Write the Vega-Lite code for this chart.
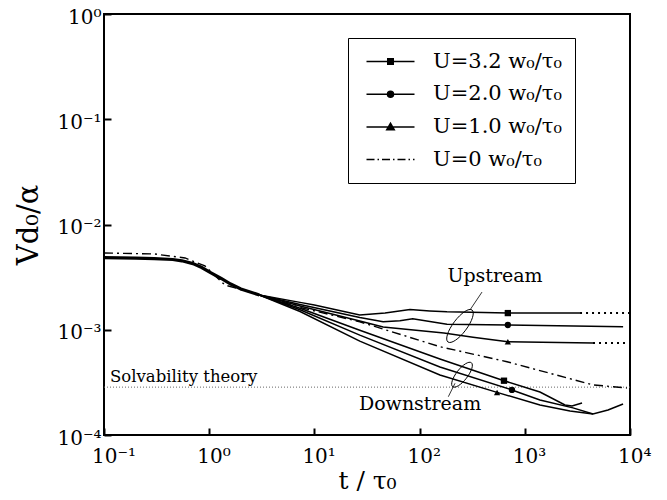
{
  "$schema": "https://vega.github.io/schema/vega-lite/v6.json",
  "width": 526,
  "height": 421,
  "autosize": "none",
  "padding": {"left": 104, "top": 14, "right": 37, "bottom": 65},
  "background": "white",
  "config": {
    "font": "DejaVu Serif",
    "view": {"stroke": "black", "strokeWidth": 2},
    "axis": {"grid": false, "domain": false, "ticks": true, "labelColor": "black", "titleColor": "black", "tickColor": "black", "tickWidth": 2, "titleFontWeight": "normal", "labelOverlap": false, "labelFlush": false}
  },
  "datasets": {
    "solv": [{"t": 0.1, "v": 0.000285}, {"t": 10000, "v": 0.000285}],
    "common": [
      {"t": 0.1, "v": 0.00484}, {"t": 0.2, "v": 0.0048}, {"t": 0.3, "v": 0.00475}, {"t": 0.45, "v": 0.00465},
      {"t": 0.55, "v": 0.00452}, {"t": 0.7, "v": 0.00425}, {"t": 0.85, "v": 0.0039}, {"t": 1.0, "v": 0.00354},
      {"t": 1.3, "v": 0.00307}, {"t": 1.6, "v": 0.00272}, {"t": 2.0, "v": 0.00244}, {"t": 3.0, "v": 0.00214}
    ],
    "curves": [
      {"curve": "3.2 up", "t": 3, "v": 0.00214}, {"curve": "3.2 up", "t": 7.3, "v": 0.00182}, {"curve": "3.2 up", "t": 10, "v": 0.00172},
      {"curve": "3.2 up", "t": 27, "v": 0.00138}, {"curve": "3.2 up", "t": 47, "v": 0.00144}, {"curve": "3.2 up", "t": 81, "v": 0.00156},
      {"curve": "3.2 up", "t": 125, "v": 0.00151}, {"curve": "3.2 up", "t": 182, "v": 0.00148}, {"curve": "3.2 up", "t": 690, "v": 0.00144},
      {"curve": "3.2 up", "t": 3350, "v": 0.00144},
      {"curve": "2.0 up", "t": 3, "v": 0.00214}, {"curve": "2.0 up", "t": 7.3, "v": 0.00174}, {"curve": "2.0 up", "t": 27, "v": 0.00131},
      {"curve": "2.0 up", "t": 45, "v": 0.00119}, {"curve": "2.0 up", "t": 65, "v": 0.00122}, {"curve": "2.0 up", "t": 86, "v": 0.00127},
      {"curve": "2.0 up", "t": 182, "v": 0.00113}, {"curve": "2.0 up", "t": 690, "v": 0.00111}, {"curve": "2.0 up", "t": 8600, "v": 0.00107},
      {"curve": "1.0 up", "t": 3, "v": 0.00214}, {"curve": "1.0 up", "t": 7.3, "v": 0.00168}, {"curve": "1.0 up", "t": 27, "v": 0.00121},
      {"curve": "1.0 up", "t": 45, "v": 0.00106}, {"curve": "1.0 up", "t": 170, "v": 0.00093}, {"curve": "1.0 up", "t": 322, "v": 0.00085},
      {"curve": "1.0 up", "t": 690, "v": 0.000769}, {"curve": "1.0 up", "t": 4450, "v": 0.000748},
      {"curve": "3.2 down", "t": 3, "v": 0.00214}, {"curve": "3.2 down", "t": 7.3, "v": 0.0016}, {"curve": "3.2 down", "t": 27, "v": 0.00099},
      {"curve": "3.2 down", "t": 156, "v": 0.000527}, {"curve": "3.2 down", "t": 634, "v": 0.000328}, {"curve": "3.2 down", "t": 1393, "v": 0.000256},
      {"curve": "3.2 down", "t": 2410, "v": 0.000193}, {"curve": "3.2 down", "t": 2810, "v": 0.000189}, {"curve": "3.2 down", "t": 3500, "v": 0.000201},
      {"curve": "2.0 down", "t": 3, "v": 0.00214}, {"curve": "2.0 down", "t": 7.3, "v": 0.00155}, {"curve": "2.0 down", "t": 27, "v": 0.00089},
      {"curve": "2.0 down", "t": 156, "v": 0.000443}, {"curve": "2.0 down", "t": 755, "v": 0.000268}, {"curve": "2.0 down", "t": 1393, "v": 0.000215},
      {"curve": "2.0 down", "t": 2870, "v": 0.000181}, {"curve": "2.0 down", "t": 4450, "v": 0.000158}, {"curve": "2.0 down", "t": 6180, "v": 0.000173},
      {"curve": "2.0 down", "t": 8590, "v": 0.000197},
      {"curve": "1.0 down", "t": 3, "v": 0.00214}, {"curve": "1.0 down", "t": 7.3, "v": 0.00149}, {"curve": "1.0 down", "t": 27, "v": 0.00078},
      {"curve": "1.0 down", "t": 156, "v": 0.000372}, {"curve": "1.0 down", "t": 545, "v": 0.000254}, {"curve": "1.0 down", "t": 1393, "v": 0.000193},
      {"curve": "1.0 down", "t": 2690, "v": 0.000169}, {"curve": "1.0 down", "t": 4450, "v": 0.000158}
    ],
    "dashdot": [
      {"t": 0.1, "v": 0.00536}, {"t": 0.3, "v": 0.00525}, {"t": 0.59, "v": 0.00481}, {"t": 0.91, "v": 0.00404},
      {"t": 1.41, "v": 0.00266}, {"t": 2.44, "v": 0.00228}, {"t": 7.3, "v": 0.00163}, {"t": 27, "v": 0.00119},
      {"t": 156, "v": 0.00069}, {"t": 677, "v": 0.000497}, {"t": 4450, "v": 0.000299}, {"t": 9360, "v": 0.00028}
    ],
    "ext": [
      {"curve": "3.2 up", "t": 3350, "v": 0.00144}, {"curve": "3.2 up", "t": 10000, "v": 0.00144},
      {"curve": "1.0 up", "t": 4450, "v": 0.000748}, {"curve": "1.0 up", "t": 10000, "v": 0.000748}
    ],
    "markers": [
      {"U": "3.2", "side": "up", "t": 690, "v": 0.00144},
      {"U": "2.0", "side": "up", "t": 690, "v": 0.00111},
      {"U": "1.0", "side": "up", "t": 690, "v": 0.000769},
      {"U": "3.2", "side": "down", "t": 634, "v": 0.000328},
      {"U": "2.0", "side": "down", "t": 755, "v": 0.000268},
      {"U": "1.0", "side": "down", "t": 545, "v": 0.000254}
    ],
    "leaders": [
      {"t": 392, "v": 0.00228, "t2": 301, "v2": 0.00154},
      {"t": 217, "v": 0.00031, "t2": 187.5, "v2": 0.000231}
    ]
  },
  "encoding": {
    "x": {
      "field": "t", "type": "quantitative",
      "scale": {"type": "log", "domain": [0.1, 10000]},
      "axis": {
        "title": "t / τ₀", "values": [0.1, 1, 10, 100, 1000, 10000],
        "labelExpr": "datum.value < 0.5 ? '10⁻¹' : datum.value < 5 ? '10⁰' : datum.value < 50 ? '10¹' : datum.value < 500 ? '10²' : datum.value < 5000 ? '10³' : '10⁴'",
        "labelAlign": "left", "labelOffset": -12.5, "labelFontSize": 20, "labelPadding": 18,
        "tickSize": -7, "titleFontSize": 25, "titlePadding": 2
      }
    },
    "y": {
      "field": "v", "type": "quantitative",
      "scale": {"type": "log", "domain": [0.0001, 1]},
      "axis": {
        "title": "Vd₀/α", "values": [0.0001, 0.001, 0.01, 0.1, 1],
        "labelExpr": "datum.value > 0.5 ? '10⁰' : datum.value > 0.05 ? '10⁻¹' : datum.value > 0.005 ? '10⁻²' : datum.value > 0.0005 ? '10⁻³' : '10⁻⁴'",
        "labelFontSize": 20, "labelPadding": 10, "labelBaseline": "middle", "labelOffset": 3,
        "tickSize": -7, "titleFontSize": 29, "titlePadding": 13
      }
    }
  },
  "layer": [
    {"data": {"name": "solv"}, "mark": {"type": "line", "color": "#666", "strokeWidth": 1, "strokeDash": [1, 2]}, "encoding": {}},
    {"data": {"name": "common"}, "mark": {"type": "line", "color": "black", "strokeWidth": 3.2}, "encoding": {}},
    {"data": {"name": "curves"}, "mark": {"type": "line", "color": "black", "strokeWidth": 1.5}, "encoding": {"detail": {"field": "curve"}}},
    {"data": {"name": "dashdot"}, "mark": {"type": "line", "color": "black", "strokeWidth": 1.4, "strokeDash": [9, 4, 2, 4]}, "encoding": {}},
    {"data": {"name": "ext"}, "mark": {"type": "line", "color": "black", "strokeWidth": 2, "strokeDash": [2, 4]}, "encoding": {"detail": {"field": "curve"}}},
    {
      "data": {"name": "markers"},
      "mark": {"type": "point", "filled": true, "color": "black", "size": 40, "opacity": 1},
      "encoding": {"shape": {"field": "U", "scale": {"domain": ["3.2", "2.0", "1.0"], "range": ["square", "circle", "triangle-up"]}, "legend": null}}
    },
    {
      "data": {"name": "markers"},
      "mark": {"type": "point", "filled": true, "color": "black", "fill": "black", "stroke": "black", "strokeWidth": 1.3, "opacity": 0},
      "encoding": {
        "shape": {
          "field": "U",
          "scale": {
            "domain": ["3.2", "2.0", "1.0", "0"],
            "range": [
              "M -4.8 0 L 4.8 0 M -0.55 -0.55 L 0.55 -0.55 L 0.55 0.55 L -0.55 0.55 Z",
              "M -4.8 0 L 4.8 0 M -0.6 0 A 0.6 0.6 0 1 0 0.6 0 A 0.6 0.6 0 1 0 -0.6 0 Z",
              "M -4.8 0 L 4.8 0 M -0.75 0.55 L 0.75 0.55 L 0 -0.75 Z",
              "M -4.8 0 L -3.2 0 M -2.6 0 L -2.3 0 M -1.7 0 L -0.1 0 M 0.5 0 L 0.8 0 M 1.4 0 L 3.0 0 M 3.6 0 L 3.9 0 M 4.5 0 L 4.8 0"
            ]
          },
          "legend": {
            "title": null, "orient": "none", "legendX": 244, "legendY": 24,
            "labelExpr": "'U=' + datum.label + ' w₀/τ₀'",
            "labelFontSize": 21, "labelColor": "black", "labelOffset": 32, "symbolOffset": 19,
            "symbolSize": 100, "rowPadding": 10.7, "padding": 13,
            "strokeColor": "black", "fillColor": "white",
            "encode": {
              "legend": {"strokeWidth": {"value": 1.6}},
              "symbols": {"opacity": {"value": 1}, "fill": {"value": "black"}, "stroke": {"value": "black"}, "strokeWidth": {"value": 1.3}, "strokeOpacity": {"value": 1}, "fillOpacity": {"value": 1}}
            }
          }
        }
      }
    },
    {
      "data": {"values": [{"t": 242, "v": 0.001086}]},
      "mark": {"type": "point", "shape": "M 0.602 -0.799 A 0.35 1 37 1 0 -0.602 0.799 A 0.35 1 37 1 0 0.602 -0.799 Z", "size": 1600, "filled": false, "stroke": "black", "strokeWidth": 1, "opacity": 1}
    },
    {
      "data": {"values": [{"t": 253, "v": 0.000374}]},
      "mark": {"type": "point", "shape": "M 0.616 -0.788 A 0.37 1 38 1 0 -0.616 0.788 A 0.37 1 38 1 0 0.616 -0.788 Z", "size": 924, "filled": false, "stroke": "black", "strokeWidth": 1, "opacity": 1}
    },
    {
      "data": {"name": "leaders"},
      "mark": {"type": "rule", "color": "black", "strokeWidth": 0.8},
      "encoding": {"x2": {"field": "t2"}, "y2": {"field": "v2"}}
    },
    {
      "data": {"values": [{"t": 521, "v": 0.00284, "label": "Upstream"}, {"t": 101, "v": 0.000173, "label": "Downstream"}]},
      "mark": {"type": "text", "align": "center", "baseline": "alphabetic", "fontSize": 19, "color": "black"},
      "encoding": {"text": {"field": "label"}}
    },
    {
      "data": {"values": [{"t": 0.114, "v": 0.000319, "label": "Solvability theory"}]},
      "mark": {"type": "text", "align": "left", "baseline": "alphabetic", "fontSize": 16.5, "color": "black"},
      "encoding": {"text": {"field": "label"}}
    }
  ],
  "resolve": {"scale": {"shape": "independent"}}
}
